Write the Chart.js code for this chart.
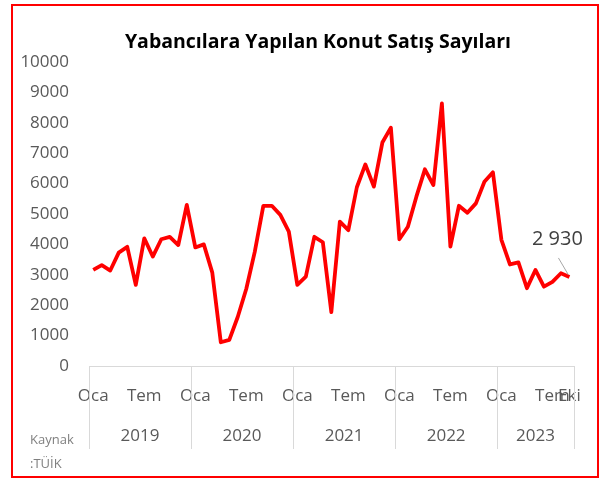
<!DOCTYPE html>
<html>
<head>
<meta charset="utf-8">
<script src="https://cdn.jsdelivr.net/npm/chart.js@4"></script>
<style>
  body { margin: 0; background: #fff; }
  #wrap { width: 601px; height: 480px; }
</style>
</head>
<body>
<div id="wrap"><canvas id="salesChart" width="601" height="480"></canvas></div>
<script>
// categories (month labels per year)
const months2019 = ['Oca', 'Şub', 'Mar', 'Nis', 'May', 'Haz', 'Tem', 'Ağu', 'Eyl', 'Eki', 'Kas', 'Ara'];
const months2020 = ['Oca', 'Şub', 'Mar', 'Nis', 'May', 'Haz', 'Tem', 'Ağu', 'Eyl', 'Eki', 'Kas', 'Ara'];
const months2021 = ['Oca', 'Şub', 'Mar', 'Nis', 'May', 'Haz', 'Tem', 'Ağu', 'Eyl', 'Eki', 'Kas', 'Ara'];
const months2022 = ['Oca', 'Şub', 'Mar', 'Nis', 'May', 'Haz', 'Tem', 'Ağu', 'Eyl', 'Eki', 'Kas', 'Ara'];
const months2023 = ['Oca', 'Şub', 'Mar', 'Nis', 'May', 'Haz', 'Tem', 'Ağu', 'Eki'];
const years = ['2019', '2020', '2021', '2022', '2023'];

// series values
const sales2019 = [3160, 3320, 3140, 3730, 3920, 2670, 4200, 3600, 4170, 4250, 3980, 5300];
const sales2020 = [3900, 4000, 3070, 780, 860, 1620, 2540, 3760, 5270, 5270, 4970, 4420];
const sales2021 = [2670, 2940, 4250, 4070, 1770, 4750, 4470, 5880, 6630, 5900, 7350, 7840];
const sales2022 = [4170, 4580, 5570, 6470, 5950, 8640, 3930, 5270, 5040, 5350, 6060, 6370];
const sales2023 = [4150, 3340, 3410, 2560, 3160, 2610, 2770, 3050, 2930];

const yTicks = [0, 1000, 2000, 3000, 4000, 5000, 6000, 7000, 8000, 9000, 10000];
const lastLabel = '2 930';

const monthGroups = [months2019, months2020, months2021, months2022, months2023];
const labels = [].concat(...monthGroups);
const values = [].concat(sales2019, sales2020, sales2021, sales2022, sales2023);

const gray = '#595959';
const lineGray = '#d9d9d9';

// draws frame, title, year row, source note and the end label
const extras = {
    id: 'extras',
    afterDraw(chart) {
        const ctx = chart.ctx;
        const area = chart.chartArea;
        const x = chart.scales.x;
        ctx.save();

        ctx.strokeStyle = '#ff0000';
        ctx.lineWidth = 2;
        ctx.strokeRect(12, 5, 586, 472);

        ctx.fillStyle = '#000';
        ctx.font = 'bold 19.5px "Open Sans"';
        ctx.textAlign = 'center';
        ctx.textBaseline = 'middle';
        ctx.fillText('Yabancılara Yapılan Konut Satış Sayıları', 318, 42);

        // year separators and labels
        ctx.strokeStyle = lineGray;
        ctx.lineWidth = 1;
        let start = 0;
        const edges = [area.left];
        monthGroups.forEach(g => {
            const end = start + g.length;
            const right = end >= labels.length ? area.right : (x.getPixelForValue(end - 1) + x.getPixelForValue(end)) / 2;
            edges.push(right);
            start = end;
        });
        edges.forEach(px => {
            ctx.beginPath();
            ctx.moveTo(Math.round(px) + 0.5, area.bottom);
            ctx.lineTo(Math.round(px) + 0.5, 449);
            ctx.stroke();
        });
        ctx.fillStyle = gray;
        ctx.font = '17px "Open Sans"';
        years.forEach((y, i) => {
            ctx.fillText(y, (edges[i] + edges[i + 1]) / 2, 436);
        });

        ctx.fillStyle = '#7f7f7f';
        ctx.font = '13px "Open Sans"';
        ctx.textAlign = 'left';
        ctx.fillText('Kaynak', 30, 440);
        ctx.fillText(':TÜİK', 30, 464);

        // last value label with leader line
        const meta = chart.getDatasetMeta(0);
        const p = meta.data[meta.data.length - 1];
        ctx.strokeStyle = '#a6a6a6';
        ctx.beginPath();
        ctx.moveTo(p.x - 11, p.y - 19);
        ctx.lineTo(p.x - 1, p.y - 2);
        ctx.stroke();
        ctx.fillStyle = '#404040';
        ctx.font = '20px "Open Sans"';
        ctx.textAlign = 'center';
        ctx.fillText(lastLabel, p.x - 12, p.y - 38);

        ctx.restore();
    }
};

new Chart(document.getElementById('salesChart'), {
    type: 'line',
    data: {
        labels: labels,
        datasets: [{
            data: values,
            borderColor: '#ff0000',
            borderWidth: 3.8,
            pointRadius: 0,
            tension: 0,
            borderJoinStyle: 'round'
        }]
    },
    options: {
        responsive: false,
        animation: false,
        layout: { padding: { top: 62, right: 26, bottom: 0, left: 0 } },
        plugins: {
            legend: { display: false },
            tooltip: { enabled: false }
        },
        scales: {
            x: {
                offset: true,
                grid: { display: false, drawTicks: false },
                border: { display: true, color: lineGray, width: 1 },
                ticks: {
                    autoSkip: false,
                    maxRotation: 0,
                    padding: 20,
                    color: gray,
                    font: { family: 'Open Sans', size: 17 },
                    callback: (v, i) => (i % 6 === 0 || i === labels.length - 1) ? labels[i] : ''
                },
                afterFit: s => { s.height = 114; }
            },
            y: {
                min: 0,
                max: 10000,
                afterBuildTicks: s => { s.ticks = yTicks.map(v => ({ value: v })); },
                grid: { display: false, drawTicks: false },
                border: { display: false },
                ticks: {
                    padding: 20,
                    color: gray,
                    font: { family: 'Open Sans', size: 17 },
                    callback: v => String(v)
                },
                afterFit: s => { s.width = 89; }
            }
        }
    },
    plugins: [extras]
});
</script>
</body>
</html>
